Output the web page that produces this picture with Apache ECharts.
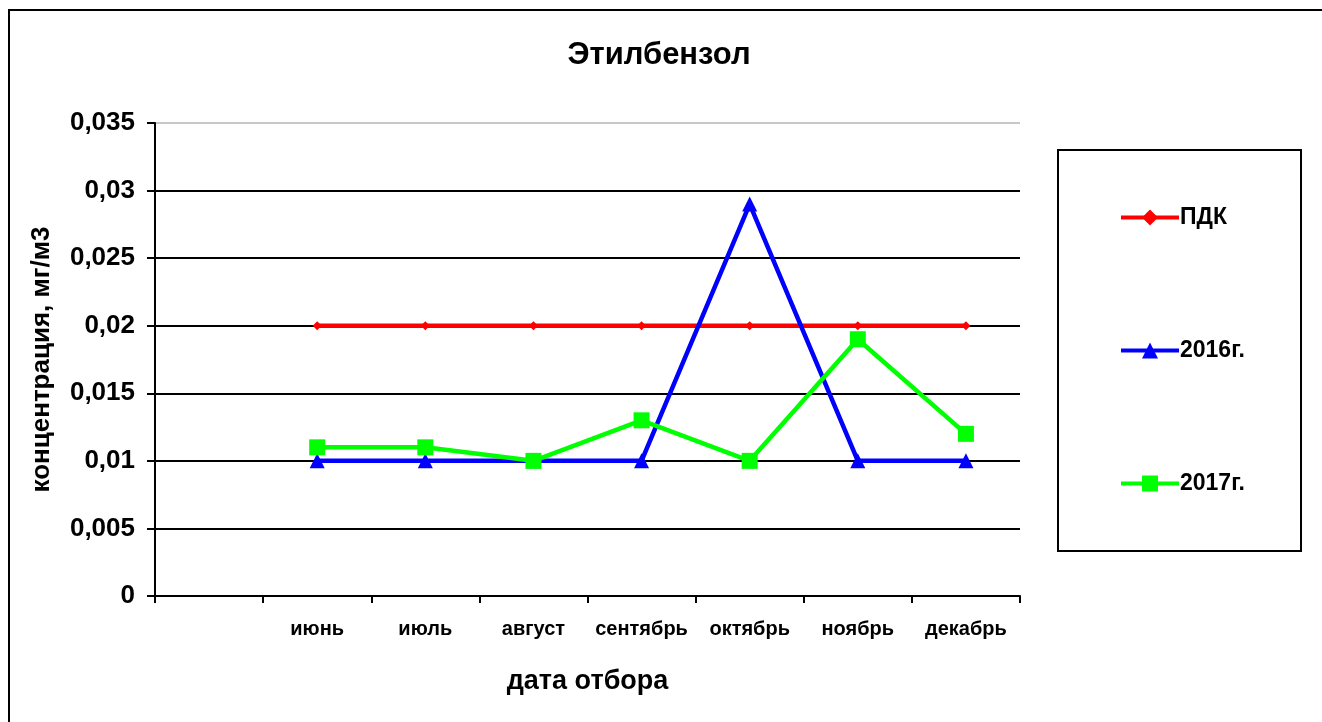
<!DOCTYPE html>
<html>
<head>
<meta charset="utf-8">
<script src="https://cdn.jsdelivr.net/npm/echarts@6/dist/echarts.min.js"></script>
<style>
  html, body { margin: 0; padding: 0; background: #fff; }
  #main { width: 1322px; height: 722px; }
</style>
</head>
<body>
<div id="main"></div>
<script>
var months = ['', 'июнь', 'июль', 'август', 'сентябрь', 'октябрь', 'ноябрь', 'декабрь'];
var pdk = ['-', 0.02, 0.02, 0.02, 0.02, 0.02, 0.02, 0.02];
var y2016 = ['-', 0.01, 0.01, 0.01, 0.01, 0.029, 0.01, 0.01];
var y2017 = ['-', 0.011, 0.011, 0.01, 0.013, 0.01, 0.019, 0.012];

var font = 'Liberation Sans, Arial, sans-serif';

var chart = echarts.init(document.getElementById('main'));

// 0.025 -> "0,025"
function fmt(v) {
    return String(parseFloat(v.toFixed(3))).replace('.', ',');
}

var option = {
    animation: false,
    backgroundColor: '#fff',
    textStyle: { fontFamily: font },
    title: {
        text: 'Этилбензол',
        left: 654,
        textAlign: 'center',
        top: 35,
        textStyle: { fontFamily: font, fontSize: 31, fontWeight: 'bold', color: '#000' }
    },
    grid: {
        left: 155,
        top: 123,
        width: 865,
        height: 473
    },
    legend: {
        orient: 'vertical',
        left: 1114,
        top: 201,
        itemGap: 110,
        itemWidth: 58,
        itemHeight: 20,
        lineStyle: { width: 4 },
        textStyle: { fontFamily: font, fontSize: 23, fontWeight: 'bold', color: '#000', padding: [0, 0, 0, -4] },
        data: ['ПДК', '2016г.', '2017г.']
    },
    xAxis: {
        type: 'category',
        data: months,
        boundaryGap: true,
        axisLine: { lineStyle: { color: '#000', width: 2 } },
        axisTick: { show: true, length: 7, interval: 0, lineStyle: { color: '#000', width: 2 } },
        axisLabel: { interval: 0, margin: 23, color: '#000', fontFamily: font, fontSize: 20, fontWeight: 'bold' },
        splitLine: { show: false },
        name: 'дата отбора',
        nameLocation: 'middle',
        nameGap: 72,
        nameTextStyle: { color: '#000', fontFamily: font, fontSize: 27, fontWeight: 'bold' }
    },
    yAxis: {
        type: 'value',
        min: 0,
        max: 0.035,
        interval: 0.005,
        axisLine: { show: true, lineStyle: { color: '#000', width: 2 } },
        axisTick: { show: true, length: 8, lineStyle: { color: '#000', width: 2 } },
        axisLabel: { margin: 20, color: '#000', fontFamily: font, fontSize: 26, fontWeight: 'bold', formatter: fmt },
        splitLine: { show: true, lineStyle: { color: ['#000', '#000', '#000', '#000', '#000', '#000', '#000', '#c8c8c8'], width: 2 } },
        name: 'концентрация, мг/м3',
        nameLocation: 'middle',
        nameGap: 100,
        nameTextStyle: { color: '#000', fontFamily: font, fontSize: 26, fontWeight: 'bold' }
    },
    graphic: [
        {
            type: 'polyline',
            shape: { points: [[9, 722], [9, 10], [1322, 10]] },
            style: { stroke: '#000', lineWidth: 2, fill: null }
        },
        {
            type: 'rect',
            shape: { x: 1058, y: 150, width: 243, height: 401 },
            style: { stroke: '#000', lineWidth: 2, fill: null }
        }
    ],
    series: [
        {
            name: 'ПДК',
            type: 'line',
            data: pdk,
            symbol: 'diamond',
            symbolSize: 9,
            lineStyle: { color: '#ff0000', width: 4.5 },
            itemStyle: { color: '#ff0000' },
            z: 3
        },
        {
            name: '2016г.',
            type: 'line',
            data: y2016,
            symbol: 'triangle',
            symbolSize: 15,
            lineStyle: { color: '#0000ff', width: 4.5 },
            itemStyle: { color: '#0000ff' },
            z: 4
        },
        {
            name: '2017г.',
            type: 'line',
            data: y2017,
            symbol: 'rect',
            symbolSize: 16,
            lineStyle: { color: '#00ff00', width: 4.5 },
            itemStyle: { color: '#00ff00' },
            z: 5
        }
    ]
};

chart.setOption(option);
</script>
</body>
</html>
